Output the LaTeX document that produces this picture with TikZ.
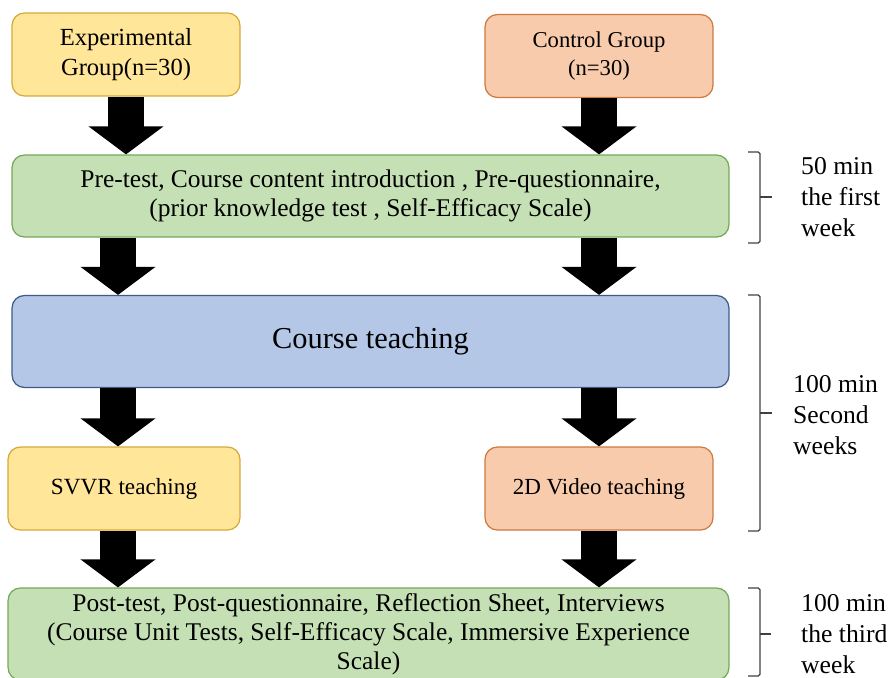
\documentclass[tikz,border=0pt]{standalone}
\usepackage{fontspec}
\setmainfont{Liberation Serif}
\usepackage{tikz}
\usetikzlibrary{calc}
\usetikzlibrary{arrows.meta}

\definecolor{yelFill}{HTML}{FFE699}
\definecolor{yelDraw}{HTML}{D6A93A}
\definecolor{peaFill}{HTML}{F8CBAD}
\definecolor{peaDraw}{HTML}{CC7A3E}
\definecolor{grnFill}{HTML}{C5E0B4}
\definecolor{grnDraw}{HTML}{76A85A}
\definecolor{bluFill}{HTML}{B4C7E7}
\definecolor{bluDraw}{HTML}{3D5A8A}

\tikzset{
  box/.style={draw, rounded corners=7pt, line width=0.7pt, align=center, inner sep=2pt},
  expbox/.style={box, fill=yelFill, draw=yelDraw, minimum width=4.56cm, minimum height=1.66cm},
  ctrlbox/.style={box, fill=peaFill, draw=peaDraw, minimum width=4.56cm, minimum height=1.66cm},
  widebox/.style={box, fill=grnFill, draw=grnDraw, minimum width=14.34cm},
  fatarrow/.style={line width=20.4pt, -{Triangle[width=42pt,length=16pt]}},
  bracket/.style={draw=black!75, line width=0.7pt, rounded corners=1pt},
  timetext/.style={anchor=west, align=left, font=\fontsize{14.6}{17.8}\selectfont}
}

\begin{document}
\begin{tikzpicture}[x=0.02cm, y=-0.02cm]
\useasboundingbox (0,0) rectangle (889,677);
\coordinate (colL) at (118,0);
\coordinate (colR) at (599,0);

% groups
\node[expbox, font=\fontsize{14}{17}\selectfont] (exp) at (126,54.5) {Experimental\\Group(n=30)};
\node[ctrlbox, font=\fontsize{12.9}{16}\selectfont] (ctrl) at (599,56) {Control Group\\(n=30)};

% first week
\node[widebox, minimum height=1.64cm, font=\fontsize{14.5}{16.5}\selectfont] (pre) at (370.5,196)
  {Pre-test, Course content introduction , Pre-questionnaire,\\(prior knowledge test , Self-Efficacy Scale)};

% second week
\node[box, fill=bluFill, draw=bluDraw, minimum width=14.34cm, minimum height=1.84cm,
  font=\fontsize{17.3}{20}\selectfont] (course) at (370.5,341.5) {Course teaching};
\node[expbox, minimum width=4.64cm, font=\fontsize{13.2}{15}\selectfont] (svvr) at (124,488.5) {SVVR teaching};
\node[ctrlbox, font=\fontsize{13.1}{15}\selectfont] (video) at (599,488.5) {2D Video teaching};

% third week
\node[widebox, minimum width=14.42cm, minimum height=1.84cm, font=\fontsize{14.5}{16.5}\selectfont] (post) at (368.5,634)
  {Post-test, Post-questionnaire, Reflection Sheet, Interviews\\(Course Unit Tests, Self-Efficacy Scale, Immersive Experience\\Scale)};

% block arrows
\draw[fatarrow] (exp.south) -- (pre.north -| exp.south);
\draw[fatarrow] (ctrl.south) -- (pre.north -| ctrl.south);
\draw[fatarrow] (pre.south -| colL) -- (course.north -| colL);
\draw[fatarrow] (pre.south -| colR) -- (course.north -| colR);
\draw[fatarrow] (course.south -| colL) -- (svvr.north -| colL);
\draw[fatarrow] (course.south -| colR) -- (video.north -| colR);
\draw[fatarrow] (svvr.south -| colL) -- (post.north -| colL);
\draw[fatarrow] (video.south -| colR) -- (post.north -| colR);

% time brackets
\draw[bracket] (748,152) -- (760,152) -- (760,243) -- (748,243);
\draw[bracket] (760,197) -- (772,197);
\draw[bracket] (748,295) -- (760,295) -- (760,531) -- (748,531);
\draw[bracket] (760,413) -- (772,413);
\draw[bracket] (748,588) -- (760,588) -- (760,676) -- (748,676);
\draw[bracket] (760,634) -- (771,634);

\node[timetext] (t1) at (795,197) {50 min\\the first\\week};
\node[timetext] (t2) at (787,415) {100 min\\Second\\weeks};
\node[timetext] (t3) at (795,634) {100 min\\the third\\week};
\end{tikzpicture}
\end{document}
